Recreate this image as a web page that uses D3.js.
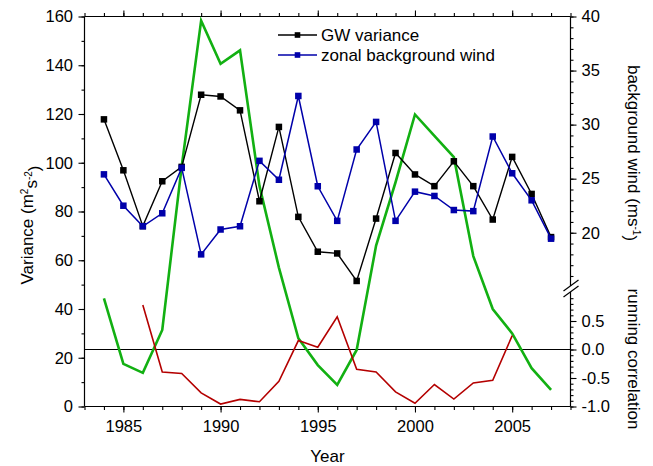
<!DOCTYPE html>
<html><head><meta charset="utf-8">
<script src="https://cdn.jsdelivr.net/npm/d3@7"></script>
<style>body{margin:0;background:#fff}svg{display:block}text{font-family:Arial,"Liberation Sans",sans-serif;fill:#000}</style>
</head><body><svg id="c" width="653" height="466"></svg>
<script>
const years = d3.range(1984, 2008);
const gwVariance = [117.8, 96.9, 74.0, 92.4, 98.3, 127.9, 127.2, 121.5, 84.2, 114.7, 77.8, 63.5, 62.8, 51.5, 77.1, 104.0, 95.2, 90.4, 100.6, 90.4, 76.7, 102.4, 87.2, 69.5];
const zonalWind = [25.4, 22.5, 20.6, 21.8, 26.0, 18.0, 20.3, 20.6, 26.65, 24.9, 32.65, 24.3, 21.1, 27.7, 30.25, 21.1, 23.8, 23.4, 22.1, 22.0, 28.9, 25.5, 23.0, 19.45];
const greenSeries = [44.4, 17.5, 13.8, 31.4, 98.5, 158.3, 140.6, 146.1, 90.5, 57.0, 28.0, 17.0, 8.9, 23.2, 66.0, 92.0, 119.8, 111.0, 102.3, 61.7, 40.0, 30.0, 15.7, 6.8];
const corrYears = d3.range(1986, 2006);
const runningCorr = [0.78, -0.395, -0.42, -0.76, -0.957, -0.875, -0.917, -0.557, 0.157, 0.04, 0.574, -0.348, -0.395, -0.743, -0.944, -0.614, -0.87, -0.586, -0.539, 0.243];
const xMajorTicks = [1985, 1990, 1995, 2000, 2005];
const leftTicks = [0, 20, 40, 60, 80, 100, 120, 140, 160];
const windTicks = [20, 25, 30, 35, 40];
const corrTicks = [-1.0, -0.5, 0.0, 0.5];

const svg = d3.select("#c");
const L = 84.5, R = 570.5, T = 16.5, B = 406.5;
const x = d3.scaleLinear().domain([1983, 2008]).range([L, R]);
const yL = d3.scaleLinear().domain([0, 160]).range([B, T]);
const yW = d3.scaleLinear().domain([15, 40]).range([286.8, T]);
const yC = d3.scaleLinear().domain([-1, 1]).range([B, 292.5]);

const fs = "16.5px";
function style(g){ g.select(".domain").remove(); g.selectAll("line").attr("stroke","#000").attr("stroke-width",1.1); g.selectAll("text").style("font-size",fs).attr("fill","#000"); }

// bottom axis
svg.append("g").attr("transform",`translate(0,${B})`).call(d3.axisBottom(x).tickValues(d3.range(1983,2009)).tickSize(3.5).tickFormat("")).call(style);
svg.append("g").attr("transform",`translate(0,${B})`).call(d3.axisBottom(x).tickValues(xMajorTicks).tickSize(6).tickPadding(8).tickFormat(d3.format("d"))).call(style);
// top axis
svg.append("g").attr("transform",`translate(0,${T})`).call(d3.axisTop(x).tickValues(d3.range(1983,2009)).tickSize(3.5).tickFormat("")).call(style);
svg.append("g").attr("transform",`translate(0,${T})`).call(d3.axisTop(x).tickValues(xMajorTicks).tickSize(6).tickFormat("")).call(style);
// left axis
svg.append("g").attr("transform",`translate(${L},0)`).call(d3.axisLeft(yL).tickValues(d3.range(0,161,10)).tickSize(3).tickFormat("")).call(style);
svg.append("g").attr("transform",`translate(${L},0)`).call(d3.axisLeft(yL).tickValues(leftTicks).tickSize(6).tickPadding(5.5).tickFormat(d3.format("d"))).call(style);
// right axis: wind
svg.append("g").attr("transform",`translate(${R},0)`).call(d3.axisRight(yW).tickValues(d3.range(16,41)).tickSize(3).tickFormat("")).call(style);
svg.append("g").attr("transform",`translate(${R},0)`).call(d3.axisRight(yW).tickValues(windTicks).tickSize(6).tickPadding(5).tickFormat(d3.format("d"))).call(style);
// right axis: correlation
svg.append("g").attr("transform",`translate(${R},0)`).call(d3.axisRight(yC).tickValues(d3.range(-10,10).map(v=>v/10)).tickSize(3).tickFormat("")).call(style);
svg.append("g").attr("transform",`translate(${R},0)`).call(d3.axisRight(yC).tickValues(corrTicks).tickSize(6).tickPadding(5).tickFormat(v=>v.toFixed(1))).call(style);

// frame
const fr = svg.append("g").attr("stroke","#000").attr("stroke-width",1.2).attr("fill","none");
fr.append("line").attr("x1",L).attr("x2",R).attr("y1",T).attr("y2",T);
fr.append("line").attr("x1",L).attr("x2",R).attr("y1",B).attr("y2",B);
fr.append("line").attr("x1",L).attr("x2",L).attr("y1",T).attr("y2",B);
fr.append("line").attr("x1",R).attr("x2",R).attr("y1",T).attr("y2",286);
fr.append("line").attr("x1",R).attr("x2",R).attr("y1",292).attr("y2",B);
// break marks
fr.append("line").attr("x1",R-7).attr("y1",291).attr("x2",R+8).attr("y2",280);
fr.append("line").attr("x1",R-7).attr("y1",297).attr("x2",R+8).attr("y2",286);

// zero correlation line
svg.append("line").attr("x1",L).attr("x2",R).attr("y1",yC(0)).attr("y2",yC(0)).attr("stroke","#000").attr("stroke-width",1.2);

// green line
svg.append("path").datum(years.map((y,i)=>[y,greenSeries[i]]))
  .attr("d",d3.line().x(d=>x(d[0])).y(d=>yL(d[1])))
  .attr("fill","none").attr("stroke","#12B012").attr("stroke-width",2.6).attr("stroke-linejoin","miter");
// red line
svg.append("path").datum(corrYears.map((y,i)=>[y,runningCorr[i]]))
  .attr("d",d3.line().x(d=>x(d[0])).y(d=>yC(d[1])))
  .attr("fill","none").attr("stroke","#B40000").attr("stroke-width",1.6);
// black series
const blk = years.map((y,i)=>[y,gwVariance[i]]);
svg.append("path").datum(blk).attr("d",d3.line().x(d=>x(d[0])).y(d=>yL(d[1])))
  .attr("fill","none").attr("stroke","#000").attr("stroke-width",1.4);
const ms = 6.5;
svg.append("g").selectAll("rect").data(blk).join("rect")
  .attr("x",d=>x(d[0])-ms/2).attr("y",d=>yL(d[1])-ms/2).attr("width",ms).attr("height",ms).attr("fill","#000");
// blue series
const blu = years.map((y,i)=>[y,zonalWind[i]]);
svg.append("path").datum(blu).attr("d",d3.line().x(d=>x(d[0])).y(d=>yW(d[1])))
  .attr("fill","none").attr("stroke","#0000AA").attr("stroke-width",1.5);
svg.append("g").selectAll("rect").data(blu).join("rect")
  .attr("x",d=>x(d[0])-ms/2).attr("y",d=>yW(d[1])-ms/2).attr("width",ms).attr("height",ms).attr("fill","#0000AA");

// legend
const legend = [{name:"GW variance", color:"#000"},{name:"zonal background wind", color:"#0000AA"}];
const lg = svg.append("g");
legend.forEach((d,i)=>{
  const yy = 35 + i*20;
  lg.append("line").attr("x1",278).attr("x2",317).attr("y1",yy).attr("y2",yy).attr("stroke",d.color).attr("stroke-width",1.5);
  lg.append("rect").attr("x",297.5-2.8).attr("y",yy-2.8).attr("width",5.6).attr("height",5.6).attr("fill",d.color);
  lg.append("text").attr("x",321).attr("y",yy+6).style("font-size","17px").text(d.name);
});

// axis titles
svg.append("text").attr("x",(x(1983)+x(2008))/2).attr("y",461.5).attr("text-anchor","middle").style("font-size","17px").text("Year");
const lt = svg.append("text").attr("transform","translate(33,225) rotate(-90)").attr("text-anchor","middle").style("font-size","17px");
lt.append("tspan").text("Variance (m");
lt.append("tspan").attr("dy","-0.5em").style("font-size","10px").text("2");
lt.append("tspan").attr("dy","0.5em").text("s");
lt.append("tspan").attr("dy","-0.5em").style("font-size","10px").text("-2");
lt.append("tspan").attr("dy","0.5em").text(")");
const rt = svg.append("text").attr("transform","translate(628,153) rotate(90)").attr("text-anchor","middle").style("font-size","17px");
rt.append("tspan").text("background wind (ms");
rt.append("tspan").attr("dy","-0.5em").style("font-size","10px").text("-1");
rt.append("tspan").attr("dy","0.5em").text(")");
svg.append("text").attr("transform","translate(628,359) rotate(90)").attr("text-anchor","middle").style("font-size","17px").text("running correlation");
</script></body></html>
